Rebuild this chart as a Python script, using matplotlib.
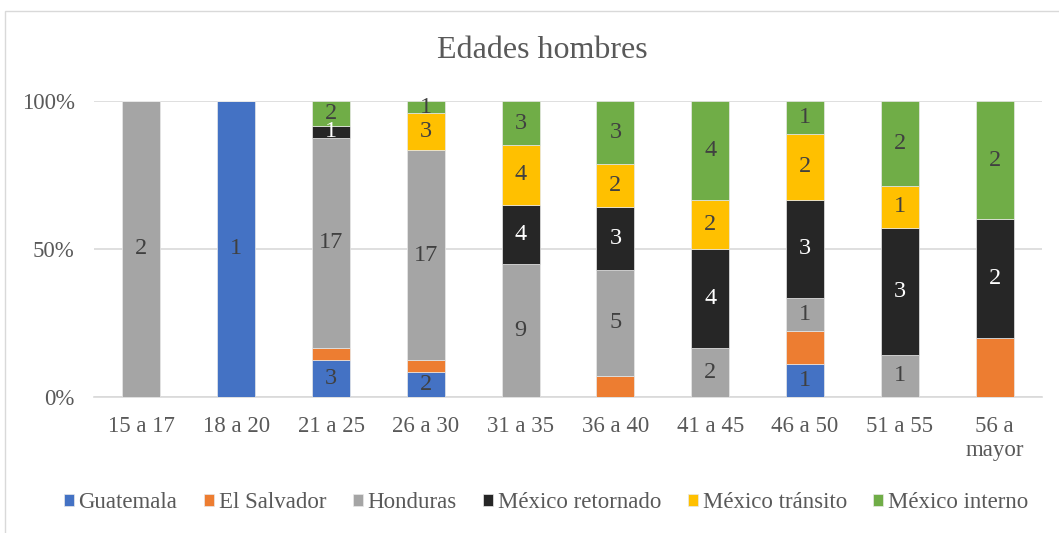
import matplotlib.pyplot as plt
import numpy as np
from matplotlib.patches import Rectangle

plt.rcParams['font.family'] = ['Liberation Serif', 'DejaVu Serif']

categories = ['15 a 17', '18 a 20', '21 a 25', '26 a 30', '31 a 35',
              '36 a 40', '41 a 45', '46 a 50', '51 a 55', '56 a\nmayor']
guatemala = [0, 1, 3, 2, 0, 0, 0, 1, 0, 0]
el_salvador = [0, 0, 1, 1, 0, 1, 0, 1, 0, 1]
honduras = [2, 0, 17, 17, 9, 5, 2, 1, 1, 0]
mexico_retornado = [0, 0, 1, 0, 4, 3, 4, 3, 3, 2]
mexico_transito = [0, 0, 0, 3, 4, 2, 2, 2, 1, 0]
mexico_interno = [0, 0, 2, 1, 3, 3, 4, 1, 2, 2]

series = [
    ('Guatemala', guatemala, '#4472C4', '#404040', True),
    ('El Salvador', el_salvador, '#ED7D31', '#404040', False),
    ('Honduras', honduras, '#A5A5A5', '#404040', True),
    ('México retornado', mexico_retornado, '#262626', 'white', True),
    ('México tránsito', mexico_transito, '#FFC000', '#404040', True),
    ('México interno', mexico_interno, '#70AD47', '#404040', True),
]

totals = np.sum([s[1] for s in series], axis=0).astype(float)

fig = plt.figure(figsize=(10.59, 5.33), dpi=100)
ax = fig.add_axes([94 / 1059, 1 - 397 / 533, 948 / 1059, 296 / 533])

# chart border (cut off on the right and bottom like the source)
fig.patches.append(Rectangle((5 / 1059, -0.1), 1.2, 1.1 - 11 / 533,
                             transform=fig.transFigure, fill=False,
                             edgecolor='#D9D9D9', linewidth=1))

x = np.arange(len(categories))
bottom = np.zeros(len(categories))
for name, vals, color, txtcolor, show in series:
    vals = np.array(vals, dtype=float)
    pct = vals / totals * 100
    ax.bar(x, pct, 0.4, bottom=bottom, color=color, label=name,
           edgecolor='#E8E8E8', linewidth=0.5, zorder=3)
    if show:
        for i in range(len(x)):
            if vals[i] > 0:
                ax.text(x[i], bottom[i] + pct[i] / 2, '%d' % vals[i],
                        ha='center', va='center', fontsize=17.5,
                        color=txtcolor, zorder=4)
    bottom += pct

ax.set_xlim(-0.5, len(categories) - 0.5)
ax.set_ylim(0, 100)
ax.set_yticks([0, 50, 100])
ax.set_yticklabels(['0%', '50%', '100%'])
ax.set_xticks(x)
ax.set_xticklabels(categories, linespacing=1.15)
ax.tick_params(axis='both', length=0, labelsize=16.5, colors='#595959')
ax.tick_params(axis='x', pad=14)
ax.tick_params(axis='y', pad=14)
ax.yaxis.grid(True, color='#D9D9D9', linewidth=1.2, zorder=0)
for s in ['top', 'right', 'left']:
    ax.spines[s].set_visible(False)
ax.spines['bottom'].set_color('#D9D9D9')
ax.spines['bottom'].set_linewidth(1.2)

fig.text(542 / 1059, 1 - 50 / 533, 'Edades hombres', ha='center', va='center',
         fontsize=23, color='#595959')

leg = fig.legend(loc='center', bbox_to_anchor=(546 / 1059, 1 - 503 / 533), ncol=6,
                 frameon=False, fontsize=16.5, handlelength=0.45, handleheight=0.45,
                 handletextpad=0.2, columnspacing=1.15)
for t in leg.get_texts():
    t.set_color('#595959')

fig.savefig('out.png', dpi=100)
